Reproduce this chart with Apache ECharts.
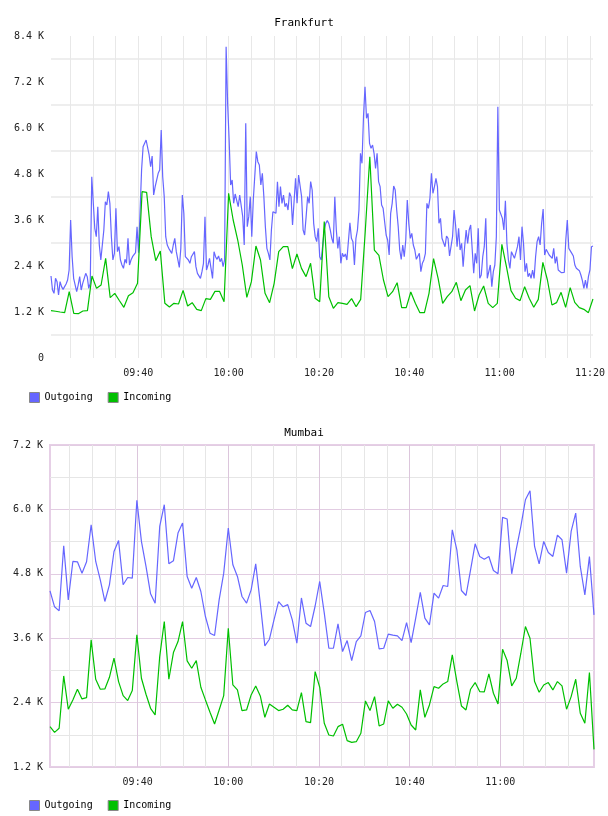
<!DOCTYPE html>
<html>
<head>
<meta charset="utf-8">
<script src="https://cdn.jsdelivr.net/npm/echarts@6/dist/echarts.min.js"></script>
<style>
  html, body { margin: 0; padding: 0; background: #fff; }
  #chart { width: 608px; height: 816px; }
</style>
</head>
<body>
<div id="chart"></div>
<script>
// time is in minutes after midnight, both charts run 09:20:40 - 11:20:40
const startMin = 560 + 40 / 60
const endMin = 680 + 40 / 60
const xLabelsTop = [580, 600, 620, 640, 660, 680]
const xLabelsBottom = [580, 600, 620, 640, 660]
const xGridTop = [565, 570, 575, 580, 585, 590, 595, 600, 605, 610, 615, 620, 625, 630, 635, 640, 645, 650, 655, 660, 665, 670, 675, 680]
const xGridBottom = [565, 570, 575, 580, 585, 590, 595, 600, 605, 610, 615, 620, 625, 630, 635, 640, 645, 650, 655, 660, 665, 670, 675]
const seriesNames = ['Outgoing', 'Incoming']

// Frankfurt, outgoing sampled ~20s, incoming ~1 min
const frankfurtOut = [
  2139,1774,1687,2078,1991,1643,1991,1861,1791,1861,
  1930,2035,2296,3600,2643,2078,2078,1730,1904,2122,
  1774,1948,1904,2209,2122,1817,1948,4730,4687,3383,
  3165,3948,2948,2557,2557,3339,4078,3991,4339,4035,
  3165,2557,2730,3904,2774,2904,2557,2426,2339,2574,
  2470,3122,2426,2557,2643,2626,2748,3426,2748,2730,
  4904,5513,5557,5687,5670,5296,4991,5270,4252,4470,
  4513,4817,4904,5948,4730,4209,3165,2948,2861,2817,
  2730,2948,3122,2774,2730,2365,2861,4252,3774,2643,
  2600,2557,2470,2643,2687,2774,2383,2209,2252,2078,
  2252,2470,3687,2296,2426,2600,2339,2078,2774,2643,
  2574,2661,2513,2600,2383,2557,8122,6643,5687,4513,
  4643,4035,4278,4252,3948,4252,4278,3687,2948,6122,
  3426,3687,4209,3165,4122,4078,5383,5122,5035,4513,
  4817,4209,3426,2861,2730,2557,3339,3817,3774,3774,
  4600,3948,4470,4035,4252,3948,4035,3861,4313,4209,
  3470,4078,4687,4035,4774,4800,4209,3339,3209,3687,
  4209,4035,4600,4383,3513,3165,3035,3383,2643,2557,
  2513,3339,3513,3583,3513,3339,3122,2991,4209,3339,
  2861,3165,2470,2730,2643,2713,2557,2574,3530,3122,
  3035,2426,3122,3339,3861,5339,5078,6296,7078,6252,
  6383,5600,5470,5557,5339,4948,5339,4600,4470,3991,
  3904,3861,3209,3078,2687,3774,4035,4487,4383,3861,
  3426,2817,2574,2948,2643,3078,4122,3513,3122,3252,
  2948,2817,2574,2557,2730,2252,2470,2557,2730,4035,
  3904,4165,4817,4296,4470,4687,4470,3513,3643,3122,
  3078,2904,3183,3122,2661,2661,3165,3861,3470,2904,
  3383,2817,
  2991,2383,2904,3339,2991,3339,3470,3513,2209,2730,
  2470,3383,2078,2165,2643,2904,3643,2078,2078,2426,
  1861,2252,2426,3165,6557,3861,3861,3643,3339,4104,
  2991,2557,2339,2774,2730,2600,2557,2904,3165,2557,
  3426,2991,2252,2470,2122,2209,2078,2296,2078,2643,
  3035,3165,2948,3513,3887,2687,2835,2817,2687,2643,
  2600,2861,2470,2643,2296,2252,2226,2252,2235,3078,
  3600,2861,2861,2730,2661,2426,2339,2313,2278,2165,
  2017,1817,2035,1817,2122,2296,2904,2922
]
const frankfurtIn = [
  1235,1220,1200,1183,1730,1165,1157,1226,1235,2139,1817,1904,2600,1574,1687,1500,1322,1626,1704,1948,
  4339,4322,3165,2539,2791,1426,1330,1426,1409,1765,1357,1444,1270,1235,1548,1530,1739,1739,1470,4296,
  3600,3078,2426,1583,1991,2922,2557,1687,1444,1948,2774,2904,2904,2330,2713,2339,2122,2470,1557,1470,
  3557,1600,1296,1444,1426,1400,1548,1339,1530,3300,5252,2817,2678,2035,1600,1730,1965,1313,1313,1722,
  1426,1183,1183,1687,2591,2078,1426,1600,1730,1974,1496,1774,1887,1226,1643,1878,1426,1313,1426,2965,
  2383,1757,1557,1496,1861,1557,1322,1530,2496,2035,1383,1444,1713,1322,1835,1452,1313,1270,1183,1539
]

// Mumbai, both ~1 min
const mumbaiOut = [
  4483,4185,4110,5322,4315,5030,5024,4812,5024,5714,5030,4688,4284,4595,5216,5421,4595,4731,4719,6168,
  5403,4937,4427,4253,5683,6087,4986,5042,5558,5745,4750,4532,4731,4470,4004,3693,3650,4315,4812,5652,
  4968,4750,4377,4253,4501,4986,4250,3457,3581,3942,4280,4185,4225,3942,3507,4350,3880,3818,4200,4657,
  4066,3413,3413,3867,3351,3556,3183,3538,3643,4079,4116,3911,3401,3413,3675,3656,3643,3556,3892,3519,
  3973,4452,3973,3849,4439,4346,4582,4564,5620,5247,4489,4396,4874,5359,5123,5073,5123,4862,4800,5851,
  5820,4800,5260,5683,6180,6348,5310,4986,5403,5198,5123,5521,5434,4812,5589,5931,4937,4408,5123,4035
]
const mumbaiIn = [
  1952,1846,1921,2897,2276,2450,2649,2468,2493,3569,2835,2649,2655,2872,3227,2792,2530,2437,2624,3662,
  2854,2555,2294,2170,3258,3911,2835,3333,3538,3911,3177,3040,3183,2686,2450,2220,2002,2263,2530,3786,
  2729,2636,2251,2263,2543,2711,2524,2126,2375,2313,2251,2276,2350,2263,2251,2586,2045,2027,2978,2686,
  2014,1797,1778,1952,1996,1691,1660,1672,1828,2431,2251,2512,1965,2002,2431,2294,2369,2313,2188,1983,
  1890,2636,2126,2356,2698,2667,2748,2792,3289,2792,2338,2263,2649,2773,2605,2599,2935,2574,2375,3395,
  3183,2711,2854,3320,3818,3600,2792,2593,2729,2773,2636,2792,2711,2276,2512,2835,2201,2014,2960,1529
]

const blue = '#6666ff'
const green = '#00c000'
const font = 'DejaVu Sans Mono'

function toPoints(values) {
  let step = (endMin - startMin) / (values.length - 1)
  return values.map((v, i) => [startMin + i * step, v])
}
function fmtTime(m) {
  let h = Math.floor(m / 60)
  let mm = Math.round(m - h * 60)
  return (h < 10 ? '0' : '') + h + ':' + (mm < 10 ? '0' : '') + mm
}
function fmtK(v) {
  return v == 0 ? '0' : (v / 1000).toFixed(1) + ' K'
}

function xAxis(idx, labels, ticks, splitColor) {
  return {
    type: 'value', gridIndex: idx, min: startMin, max: endMin,
    axisLine: { show: false },
    axisTick: { show: false, customValues: ticks },
    axisLabel: { customValues: labels, formatter: fmtTime, margin: 10, fontFamily: font, fontSize: 10, color: '#222' },
    splitLine: { show: true, lineStyle: { color: splitColor, width: 1 } }
  }
}
function legend(top) {
  return {
    data: seriesNames, left: 24, top: top, icon: 'rect', itemWidth: 10, itemHeight: 10, itemGap: 15,
    textStyle: { fontFamily: font, fontSize: 10, color: '#000', padding: [0, 0, 0, 0] },
    itemStyle: { borderColor: '#888', borderWidth: 1 }
  }
}
function line(name, color, values, idx) {
  return {
    name: name, type: 'line', xAxisIndex: idx, yAxisIndex: idx,
    data: toPoints(values), symbol: 'none', showSymbol: false,
    color: color, lineStyle: { color: color, width: 1.2 }
  }
}

let chart = echarts.init(document.getElementById('chart'))
let option = {
  animation: false,
  backgroundColor: '#fff',
  title: [
    { text: 'Frankfurt', left: 'center', top: 13, textStyle: { fontFamily: font, fontSize: 11, fontWeight: 'normal', color: '#000' } },
    { text: 'Mumbai', left: 'center', top: 423, textStyle: { fontFamily: font, fontSize: 11, fontWeight: 'normal', color: '#000' } }
  ],
  legend: [legend(387), legend(795)],
  grid: [
    { left: 51, right: 14, top: 36, height: 322 },
    { left: 50, right: 14, top: 445, height: 322, show: true, borderColor: '#e6cfe6', borderWidth: 2 }
  ],
  xAxis: [
    xAxis(0, xLabelsTop, xGridTop, '#e8e8e8'),
    xAxis(1, xLabelsBottom, xGridBottom, ['#e6e6e6', '#e6e6e6', '#e6e6e6', '#dcc6dc'])
  ],
  yAxis: [
    {
      type: 'value', gridIndex: 0, min: 0, max: 8400, interval: 1200,
      axisLine: { show: false }, axisTick: { show: false },
      axisLabel: { formatter: fmtK, margin: 7, fontFamily: font, fontSize: 10, color: '#222' },
      splitLine: { show: false },
      minorTick: { show: false, splitNumber: 2 },
      minorSplitLine: { show: true, lineStyle: { color: '#eeeeee', width: 2 } }
    },
    {
      type: 'value', gridIndex: 1, min: 1200, max: 7200, interval: 1200,
      axisLine: { show: false }, axisTick: { show: false },
      axisLabel: { formatter: fmtK, margin: 7, fontFamily: font, fontSize: 10, color: '#222' },
      splitLine: { show: true, lineStyle: { color: '#e2cce2', width: 1 } },
      minorTick: { show: false, splitNumber: 2 },
      minorSplitLine: { show: true, lineStyle: { color: '#e6e6e6', width: 1 } }
    }
  ],
  series: [
    line('Outgoing', blue, frankfurtOut, 0),
    line('Incoming', green, frankfurtIn, 0),
    line('Outgoing', blue, mumbaiOut, 1),
    line('Incoming', green, mumbaiIn, 1)
  ]
}
chart.setOption(option)
</script>
</body>
</html>
